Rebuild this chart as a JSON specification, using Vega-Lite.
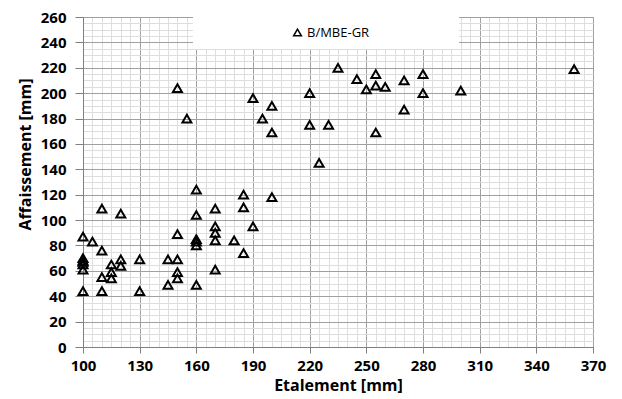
{
  "$schema": "https://vega.github.io/schema/vega-lite/v6.json",
  "width": 510,
  "height": 330,
  "autosize": {"type": "none"},
  "padding": {"left": 83, "top": 17, "right": 29, "bottom": 52},
  "background": "white",
  "config": {
    "view": {"stroke": "#808080", "strokeWidth": 1},
    "font": "Open Sans",
    "axis": {
      "labelFont": "Open Sans",
      "labelFontWeight": "bold",
      "labelFontSize": 15,
      "labelColor": "#000000",
      "titleFont": "Open Sans",
      "titleFontWeight": "bold",
      "titleFontSize": 16,
      "titleColor": "#000000",
      "domainColor": "#808080",
      "gridWidth": 1,
      "labelOverlap": false,
      "labelFlush": false
    }
  },
  "data": {
    "values": [
      {"Etalement": 100, "Affaissement": 87},
      {"Etalement": 100, "Affaissement": 70},
      {"Etalement": 100, "Affaissement": 68},
      {"Etalement": 100, "Affaissement": 67},
      {"Etalement": 100, "Affaissement": 65},
      {"Etalement": 100, "Affaissement": 61},
      {"Etalement": 100, "Affaissement": 44},
      {"Etalement": 105, "Affaissement": 83},
      {"Etalement": 110, "Affaissement": 109},
      {"Etalement": 110, "Affaissement": 76},
      {"Etalement": 110, "Affaissement": 55},
      {"Etalement": 110, "Affaissement": 44},
      {"Etalement": 115, "Affaissement": 65},
      {"Etalement": 115, "Affaissement": 59},
      {"Etalement": 115, "Affaissement": 54},
      {"Etalement": 120, "Affaissement": 105},
      {"Etalement": 120, "Affaissement": 69},
      {"Etalement": 120, "Affaissement": 64},
      {"Etalement": 130, "Affaissement": 69},
      {"Etalement": 130, "Affaissement": 44},
      {"Etalement": 145, "Affaissement": 69},
      {"Etalement": 145, "Affaissement": 49},
      {"Etalement": 150, "Affaissement": 204},
      {"Etalement": 150, "Affaissement": 89},
      {"Etalement": 150, "Affaissement": 69},
      {"Etalement": 150, "Affaissement": 59},
      {"Etalement": 150, "Affaissement": 54},
      {"Etalement": 155, "Affaissement": 180},
      {"Etalement": 160, "Affaissement": 124},
      {"Etalement": 160, "Affaissement": 104},
      {"Etalement": 160, "Affaissement": 85},
      {"Etalement": 160, "Affaissement": 83},
      {"Etalement": 160, "Affaissement": 80},
      {"Etalement": 160, "Affaissement": 49},
      {"Etalement": 170, "Affaissement": 109},
      {"Etalement": 170, "Affaissement": 95},
      {"Etalement": 170, "Affaissement": 90},
      {"Etalement": 170, "Affaissement": 84},
      {"Etalement": 170, "Affaissement": 61},
      {"Etalement": 180, "Affaissement": 84},
      {"Etalement": 185, "Affaissement": 120},
      {"Etalement": 185, "Affaissement": 110},
      {"Etalement": 185, "Affaissement": 74},
      {"Etalement": 190, "Affaissement": 196},
      {"Etalement": 190, "Affaissement": 95},
      {"Etalement": 195, "Affaissement": 180},
      {"Etalement": 200, "Affaissement": 190},
      {"Etalement": 200, "Affaissement": 169},
      {"Etalement": 200, "Affaissement": 118},
      {"Etalement": 220, "Affaissement": 200},
      {"Etalement": 220, "Affaissement": 175},
      {"Etalement": 225, "Affaissement": 145},
      {"Etalement": 230, "Affaissement": 175},
      {"Etalement": 235, "Affaissement": 220},
      {"Etalement": 245, "Affaissement": 211},
      {"Etalement": 250, "Affaissement": 203},
      {"Etalement": 255, "Affaissement": 215},
      {"Etalement": 255, "Affaissement": 206},
      {"Etalement": 255, "Affaissement": 169},
      {"Etalement": 260, "Affaissement": 205},
      {"Etalement": 270, "Affaissement": 210},
      {"Etalement": 270, "Affaissement": 187},
      {"Etalement": 280, "Affaissement": 215},
      {"Etalement": 280, "Affaissement": 200},
      {"Etalement": 300, "Affaissement": 202},
      {"Etalement": 360, "Affaissement": 219}
    ]
  },
  "mark": {"type": "point", "filled": false, "color": "#000000", "strokeWidth": 2, "size": 80, "opacity": 1},
  "encoding": {
    "x": {
      "field": "Etalement",
      "type": "quantitative",
      "scale": {"domain": [100, 370], "nice": false, "zero": false},
      "axis": {
        "title": "Etalement [mm]",
        "values": [100,105,110,115,120,125,130,135,140,145,150,155,160,165,170,175,180,185,190,195,200,205,210,215,220,225,230,235,240,245,250,255,260,265,270,275,280,285,290,295,300,305,310,315,320,325,330,335,340,345,350,355,360,365,370],
        "labelExpr": "datum.value % 30 === 10 ? datum.label : ''",
        "grid": true,
        "gridColor": {"condition": {"test": "datum.value % 30 === 10", "value": "#a0a0a0"}, "value": "#dedede"},
        "tickColor": {"condition": {"test": "datum.value % 30 === 10", "value": "#808080"}, "value": "transparent"},
        "tickSize": 6,
        "labelPadding": 5,
        "titlePadding": 4
      }
    },
    "y": {
      "field": "Affaissement",
      "type": "quantitative",
      "scale": {"domain": [0, 260], "nice": false, "zero": true},
      "axis": {
        "title": "Affaissement  [mm]",
        "values": [0,5,10,15,20,25,30,35,40,45,50,55,60,65,70,75,80,85,90,95,100,105,110,115,120,125,130,135,140,145,150,155,160,165,170,175,180,185,190,195,200,205,210,215,220,225,230,235,240,245,250,255,260],
        "labelExpr": "datum.value % 20 === 0 ? datum.label : ''",
        "grid": true,
        "gridColor": {"condition": {"test": "datum.value % 20 === 0", "value": "#a0a0a0"}, "value": "#dedede"},
        "tickColor": {"condition": {"test": "datum.value % 20 === 0", "value": "#808080"}, "value": "transparent"},
        "tickSize": 8,
        "labelPadding": 9,
        "titleY": 137,
        "titleX": -58,
        "titleAngle": -90,
        "titleAlign": "center",
        "titleBaseline": "middle"
      }
    },
    "shape": {
      "datum": "B/MBE-GR",
      "type": "nominal",
      "scale": {"range": ["triangle-up"]},
      "legend": {
        "title": null,
        "orient": "none",
        "legendX": 110,
        "legendY": 0,
        "padding": 9,
        "fillColor": "white",
        "symbolOffset": 89,
        "symbolStrokeColor": "#000000",
        "symbolFillColor": "transparent",
        "symbolStrokeWidth": 1.5,
        "symbolSize": 60,
        "labelFont": "Open Sans",
        "labelFontSize": 13,
        "labelColor": "#000000",
        "labelOffset": 3,
        "labelLimit": 400,
        "labelExpr": "datum.label + '\u2800\u2800\u2800\u2800\u2800\u2800\u2800\u2800'"
      }
    }
  }
}
